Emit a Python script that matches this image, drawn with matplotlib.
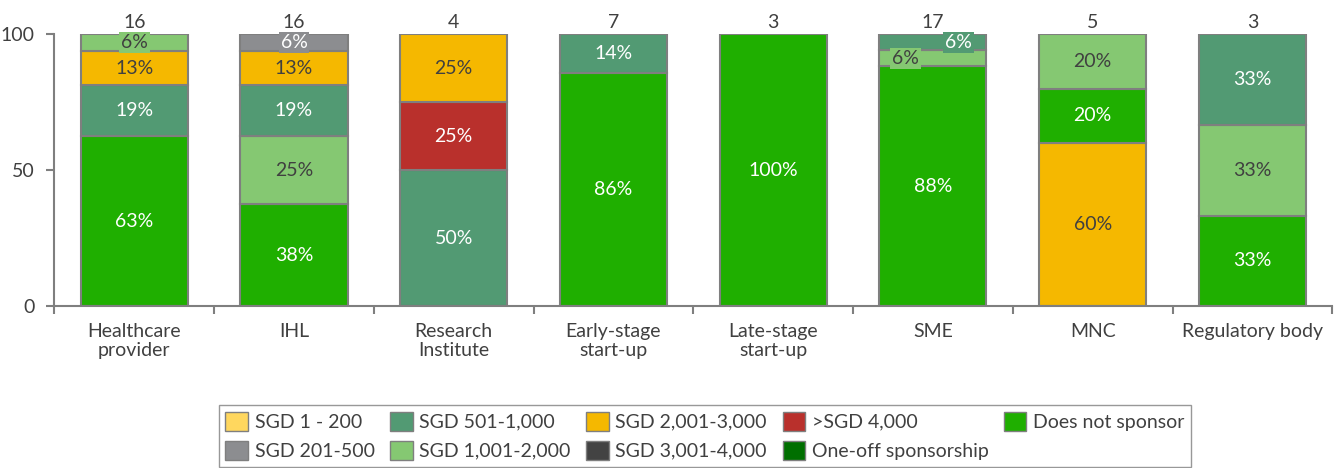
import matplotlib
matplotlib.use("Agg")
import matplotlib.pyplot as plt
from matplotlib.patches import Patch

plt.rcParams['font.family'] = ['Lato', 'DejaVu Sans']

categories = ["Healthcare\nprovider", "IHL", "Research\nInstitute", "Early-stage\nstart-up",
              "Late-stage\nstart-up", "SME", "MNC", "Regulatory body"]
counts = [16, 16, 4, 7, 3, 17, 5, 3]

series_names = ["SGD 1 - 200", "SGD 201-500", "SGD 501-1,000", "SGD 1,001-2,000",
                "SGD 2,001-3,000", "SGD 3,001-4,000", ">SGD 4,000", "One-off sponsorship",
                "Does not sponsor"]
colors = {
    "SGD 1 - 200": "#FFD75E",
    "SGD 201-500": "#8C8D90",
    "SGD 501-1,000": "#529A73",
    "SGD 1,001-2,000": "#85C872",
    "SGD 2,001-3,000": "#F5B800",
    "SGD 3,001-4,000": "#434343",
    ">SGD 4,000": "#B9302C",
    "One-off sponsorship": "#006F00",
    "Does not sponsor": "#1FAF00",
}
text_colors = {
    "SGD 1 - 200": "#404040",
    "SGD 201-500": "white",
    "SGD 501-1,000": "white",
    "SGD 1,001-2,000": "#404040",
    "SGD 2,001-3,000": "#404040",
    "SGD 3,001-4,000": "white",
    ">SGD 4,000": "white",
    "One-off sponsorship": "white",
    "Does not sponsor": "white",
}

# stacks per category, bottom to top
stack_series = [
    ["Does not sponsor", "SGD 501-1,000", "SGD 2,001-3,000", "SGD 1,001-2,000"],
    ["Does not sponsor", "SGD 1,001-2,000", "SGD 501-1,000", "SGD 2,001-3,000", "SGD 201-500"],
    ["SGD 501-1,000", ">SGD 4,000", "SGD 2,001-3,000"],
    ["Does not sponsor", "SGD 501-1,000"],
    ["Does not sponsor"],
    ["Does not sponsor", "SGD 1,001-2,000", "SGD 501-1,000"],
    ["SGD 2,001-3,000", "Does not sponsor", "SGD 1,001-2,000"],
    ["Does not sponsor", "SGD 1,001-2,000", "SGD 501-1,000"],
]
stack_values = [
    [62.5, 18.75, 12.5, 6.25],
    [37.5, 25.0, 18.75, 12.5, 6.25],
    [50.0, 25.0, 25.0],
    [85.7, 14.3],
    [100.0],
    [88.2, 5.9, 5.9],
    [60.0, 20.0, 20.0],
    [33.3, 33.3, 33.4],
]
stack_labels = [
    ["63%", "19%", "13%", "6%"],
    ["38%", "25%", "19%", "13%", "6%"],
    ["50%", "25%", "25%"],
    ["86%", "14%"],
    ["100%"],
    ["88%", "6%", "6%"],
    ["60%", "20%", "20%"],
    ["33%", "33%", "33%"],
]
# horizontal label offsets for crowded small segments (in category units)
label_dx = {(5, 1): -0.17, (5, 2): 0.16}

FS = 14
fig = plt.figure(figsize=(13.43, 4.68), dpi=100)
ax = fig.add_axes([0.0405, 0.346, 0.9515, 0.581])

text_gray = "#404040"
edge_gray = "#7F7F7F"
width = 0.67

for i, (sers, vals, labs) in enumerate(zip(stack_series, stack_values, stack_labels)):
    bottom = 0.0
    for j, (s, v, lab) in enumerate(zip(sers, vals, labs)):
        ax.bar(i, v, width=width, bottom=bottom, color=colors[s], edgecolor=edge_gray,
               linewidth=1.5, zorder=2)
        yc = bottom + v / 2
        dx = label_dx.get((i, j), 0.0)
        bbox = None
        if v < 10:
            bbox = dict(boxstyle="square,pad=0.1", facecolor=colors[s], edgecolor="none")
        ax.text(i + dx, yc, lab, ha="center", va="center", fontsize=FS,
                color=text_colors[s], bbox=bbox, zorder=4)
        bottom += v
    ax.annotate(str(counts[i]), (i, 100), xytext=(0, 2), textcoords="offset points",
                ha="center", va="bottom", fontsize=FS, color=text_gray)

ax.set_xlim(-0.5, len(categories) - 0.5)
ax.set_ylim(0, 100)
ax.set_yticks([0, 50, 100])
ax.set_xticks(range(len(categories)))
ax.set_xticklabels(categories, fontsize=FS, color=text_gray, linespacing=1.15)
ax.set_xticks([k - 0.5 for k in range(len(categories) + 1)], minor=True)
ax.tick_params(axis="x", which="major", length=0, pad=12)
ax.tick_params(axis="x", which="minor", length=6, width=1.5, color=edge_gray, direction="out")
ax.tick_params(axis="y", length=6, width=1.5, color=edge_gray, labelsize=FS,
               labelcolor=text_gray, pad=8)
for sp in ["top", "right"]:
    ax.spines[sp].set_visible(False)
for sp in ["left", "bottom"]:
    ax.spines[sp].set_color(edge_gray)
    ax.spines[sp].set_linewidth(1.5)

handles = [Patch(facecolor=colors[s], edgecolor=edge_gray, linewidth=1.0, label=s)
           for s in series_names]
leg = fig.legend(handles=handles, loc="lower center", bbox_to_anchor=(0.525, -0.018),
                 ncol=5, frameon=True, fancybox=False, fontsize=14,
                 handlelength=1.15, handleheight=1.15, handletextpad=0.35,
                 columnspacing=0.8, labelspacing=0.5, borderpad=0.35,
                 labelcolor=text_gray)
leg.get_frame().set_edgecolor(edge_gray)
leg.get_frame().set_linewidth(1.0)

fig.savefig("out.png", dpi=100)
